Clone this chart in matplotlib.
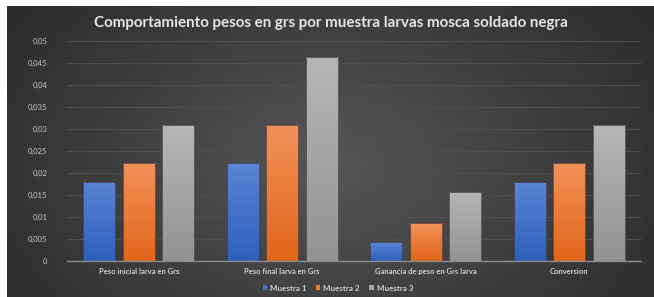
import numpy as np
import matplotlib
matplotlib.use("Agg")
import matplotlib.pyplot as plt
from matplotlib.colors import LinearSegmentedColormap
from matplotlib.patches import Patch

# data
categories = ["Peso inicial larva en Grs", "Peso final larva en Grs",
              "Ganancia de peso en Grs larva", "Conversion"]
series_names = ["Muestra 1", "Muestra 2", "Muestra 3"]
muestra1 = [0.018, 0.0222, 0.0043, 0.018]
muestra2 = [0.0222, 0.0308, 0.0086, 0.0222]
muestra3 = [0.0308, 0.0464, 0.0156, 0.0308]
yticks = [0, 0.005, 0.01, 0.015, 0.02, 0.025, 0.03, 0.035, 0.04, 0.045, 0.05]
ytick_labels = ["0", "0,005", "0,01", "0,015", "0,02", "0,025", "0,03",
                "0,035", "0,04", "0,045", "0,05"]

# (top colour, bottom colour) for each series
grads = [("#5b84d4", "#2e60bb"), ("#f2915a", "#e1661a"), ("#b6b6b6", "#939393")]
solid = ["#3f6fc8", "#ed7d31", "#a5a5a5"]

plt.rcParams['font.family'] = ['Lato', 'DejaVu Sans']

fig = plt.figure(figsize=(6.54, 2.97), dpi=100)
fig.patch.set_facecolor("white")

# dark chart area with radial gradient
bg = fig.add_axes([7 / 654, 0, 647 / 654, 291 / 297])
bg.set_axis_off()
gx, gy = np.meshgrid(np.linspace(0, 1, 300), np.linspace(0, 1, 150))
dist = np.sqrt(((gx - 0.5) / 0.6) ** 2 + ((gy - 0.55) / 0.9) ** 2)
bg_cmap = LinearSegmentedColormap.from_list("bg", ["#565656", "#2c2c2c"])
bg.imshow(np.clip(dist, 0, 1), cmap=bg_cmap, aspect="auto", extent=[0, 1, 0, 1],
          vmin=0, vmax=1, interpolation="bilinear")
bg.set_xlim(0, 1)
bg.set_ylim(0, 1)

ax = fig.add_axes([67 / 654, 36 / 297, 574 / 654, 220 / 297])
ax.patch.set_alpha(0)

x = np.arange(len(categories))
width = 0.223
step = 0.274
grad_img = np.linspace(0, 1, 100).reshape(-1, 1)

handles = []
for i, vals in enumerate([muestra1, muestra2, muestra3]):
    bars = ax.bar(x + (i - 1) * step, vals, width, color="none",
                  edgecolor="#3a3a3a", linewidth=0.5, zorder=3)
    cmap = LinearSegmentedColormap.from_list("g%d" % i, [grads[i][1], grads[i][0]])
    for b in bars:
        bx, by = b.get_x(), b.get_y()
        im = ax.imshow(grad_img, cmap=cmap, aspect="auto", origin="lower",
                       extent=[bx, bx + b.get_width(), by, by + b.get_height()],
                       zorder=2)
        im.set_clip_path(b)
    handles.append(Patch(facecolor=solid[i], label=series_names[i]))

ax.set_xlim(-0.5, 3.5)
ax.set_ylim(0, 0.05)
ax.set_yticks(yticks)
ax.set_yticklabels(ytick_labels)
ax.set_xticks(x)
ax.set_xticklabels(categories, fontweight="bold")
ax.tick_params(axis="y", length=0, labelsize=5.5, labelcolor="#c8c8c8", pad=14)
ax.tick_params(axis="x", length=0, labelsize=5.5, labelcolor="#d0d0d0", pad=5)
ax.grid(axis="y", color="#4e4e4e", linewidth=0.8, zorder=0)
for s in ["top", "right", "left"]:
    ax.spines[s].set_visible(False)
ax.spines["bottom"].set_color("#8c8c8c")
ax.spines["bottom"].set_linewidth(1.0)
ax.spines["bottom"].set_zorder(4)

fig.text(331 / 654, 1 - 23 / 297,
         "Comportamiento pesos en grs por muestra larvas mosca soldado negra",
         ha="center", va="center", color="#e6e6e6", fontsize=10.9,
         fontweight="bold")

leg = ax.legend(handles=handles, loc="center", bbox_to_anchor=(0.472, -0.123),
                ncol=3, frameon=False, fontsize=5.8, handlelength=0.55,
                handleheight=0.55, handletextpad=0.35, columnspacing=1.2)
for t in leg.get_texts():
    t.set_color("#d0d0d0")
    t.set_fontweight("bold")

fig.savefig("out.png", dpi=100)
